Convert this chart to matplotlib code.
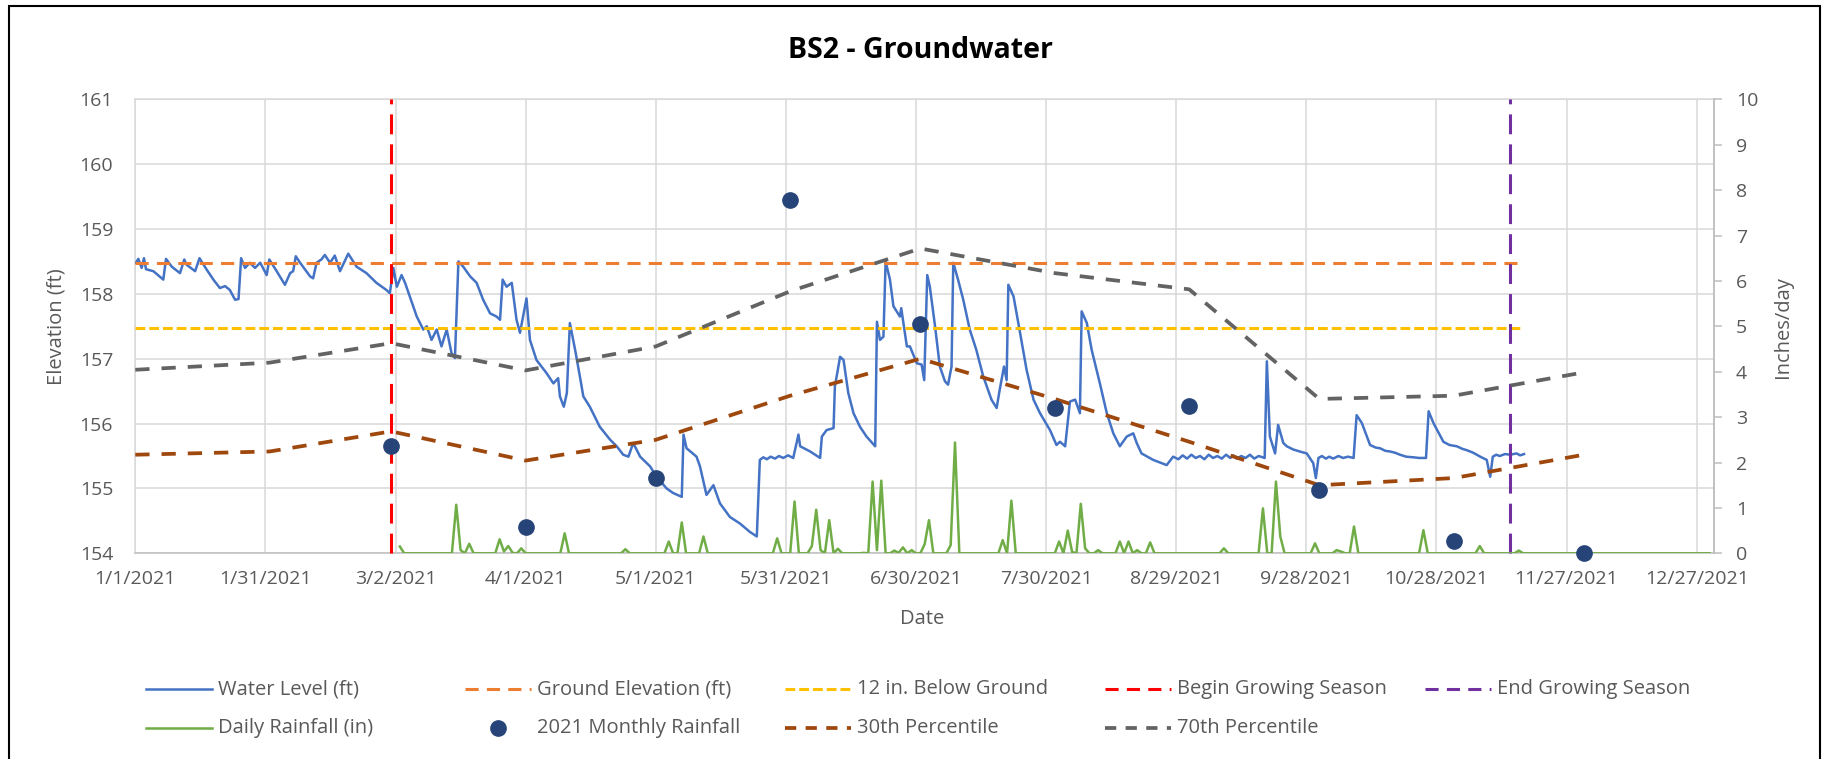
import datetime as dt
import matplotlib
matplotlib.use("Agg")
import matplotlib.pyplot as plt
from matplotlib.lines import Line2D
from matplotlib.patches import Rectangle
from matplotlib.ticker import FuncFormatter, FixedLocator
import matplotlib.dates as mdates

plt.rcParams['font.family'] = ['Open Sans', 'DejaVu Sans']

START = dt.datetime(2021, 1, 1)

# ---------------- data (days since 1/1/2021, elevation ft) ----------------
water_level = [
    (0.16, 158.48), (0.7, 158.54), (1.47, 158.40), (2.0, 158.55), (2.47, 158.38), (4.16, 158.35),
    (6.46, 158.22), (7.08, 158.54), (8.4, 158.42), (10.3, 158.32), (11.3, 158.53), (11.8, 158.45),
    (13.8, 158.35), (14.8, 158.55), (16.5, 158.37), (18.0, 158.22), (19.5, 158.09), (20.7, 158.12),
    (21.8, 158.06), (23.0, 157.91), (23.8, 157.92), (24.4, 158.55), (25.3, 158.40), (26.4, 158.48),
    (27.6, 158.40), (28.8, 158.48), (30.3, 158.29), (30.9, 158.53), (32.6, 158.35), (34.5, 158.14),
    (35.7, 158.32), (36.4, 158.35), (37.0, 158.58), (38.0, 158.48), (40.3, 158.27), (41.0, 158.24),
    (41.8, 158.48), (42.9, 158.53), (43.7, 158.60), (44.9, 158.48), (46.0, 158.59), (47.2, 158.35),
    (49.1, 158.62), (51.0, 158.42), (53.3, 158.32), (55.6, 158.17), (57.9, 158.06), (58.7, 158.01),
    (59.5, 158.40), (60.3, 158.11), (61.4, 158.29), (62.2, 158.17), (63.3, 157.96), (64.9, 157.65),
    (66.4, 157.45), (67.2, 157.50), (68.3, 157.29), (69.5, 157.45), (70.6, 157.19), (71.8, 157.45),
    (72.9, 157.09), (73.7, 157.01), (74.5, 158.50), (75.6, 158.42), (77.2, 158.27), (78.7, 158.17),
    (80.2, 157.91), (81.8, 157.70), (83.3, 157.65), (84.1, 157.60), (84.7, 158.22), (85.6, 158.11),
    (86.8, 158.17), (87.9, 157.60), (88.7, 157.40), (90.2, 157.93), (91.0, 157.29), (92.5, 156.98),
    (94.8, 156.78), (96.4, 156.62), (97.5, 156.70), (97.9, 156.42), (98.8, 156.26), (99.5, 156.47),
    (100.2, 157.55), (101.4, 157.14), (102.5, 156.73), (103.3, 156.42), (104.8, 156.26), (107.1, 155.95),
    (109.5, 155.75), (111.0, 155.65), (112.5, 155.52), (113.7, 155.49), (114.8, 155.70), (116.4, 155.49),
    (118.7, 155.34), (120.2, 155.18), (122.5, 155.00), (124.0, 154.93), (126.0, 154.87), (126.4, 155.83),
    (127.1, 155.62), (129.4, 155.49), (130.2, 155.34), (131.7, 154.90), (133.3, 155.05), (134.8, 154.77),
    (137.1, 154.56), (139.4, 154.46), (141.7, 154.33), (143.3, 154.26), (144.0, 155.44), (144.8, 155.48),
    (145.6, 155.45), (146.5, 155.49), (147.5, 155.46), (148.4, 155.50), (149.4, 155.47), (150.5, 155.51),
    (151.7, 155.47), (152.9, 155.83), (153.3, 155.65), (155.6, 155.57), (157.9, 155.47), (158.3, 155.80),
    (159.4, 155.90), (161.0, 155.93), (161.3, 156.57), (162.5, 157.03), (163.3, 156.98), (164.4, 156.47),
    (165.6, 156.16), (167.1, 155.95), (168.6, 155.80), (170.6, 155.65), (171.0, 157.57), (171.7, 157.29),
    (172.5, 157.34), (173.0, 158.50), (174.0, 158.22), (174.8, 157.81), (176.3, 157.65), (176.6, 157.78),
    (177.9, 157.19), (178.6, 157.19), (180.2, 156.93), (181.3, 156.91), (181.9, 156.67), (182.6, 158.29),
    (183.2, 158.11), (184.4, 157.50), (185.5, 156.88), (186.7, 156.65), (187.4, 156.60), (188.2, 156.88),
    (188.6, 158.48), (189.7, 158.22), (190.9, 157.91), (192.4, 157.45), (193.9, 157.14), (195.5, 156.73),
    (197.4, 156.37), (198.6, 156.24), (199.3, 156.52), (200.3, 156.88), (200.9, 156.67), (201.3, 158.14),
    (202.5, 157.96), (204.0, 157.40), (205.5, 156.83), (207.1, 156.37), (208.6, 156.16), (210.9, 155.90),
    (212.4, 155.67), (213.2, 155.72), (214.4, 155.65), (215.5, 156.34), (216.7, 156.37), (217.8, 156.16),
    (218.2, 157.73), (219.4, 157.55), (220.5, 157.14), (222.4, 156.62), (224.0, 156.16), (225.5, 155.85),
    (227.0, 155.65), (228.6, 155.80), (230.1, 155.85), (230.9, 155.70), (232.0, 155.54), (234.7, 155.44),
    (237.8, 155.36), (239.3, 155.49), (240.5, 155.45), (241.5, 155.51), (242.5, 155.46), (243.5, 155.52),
    (244.5, 155.47), (245.5, 155.50), (246.5, 155.45), (247.5, 155.52), (248.5, 155.47), (249.5, 155.50),
    (250.5, 155.46), (251.5, 155.52), (252.5, 155.47), (253.2, 155.51), (254.0, 155.46), (255.0, 155.50),
    (256.0, 155.47), (257.0, 155.52), (258.0, 155.46), (259.0, 155.50), (260.4, 155.47), (260.9, 156.96),
    (261.6, 155.80), (262.8, 155.54), (263.5, 155.98), (264.7, 155.70), (265.5, 155.65), (267.0, 155.60),
    (268.0, 155.58), (269.0, 155.56), (270.1, 155.54), (271.6, 155.39), (272.2, 155.16), (272.8, 155.47),
    (273.6, 155.50), (274.5, 155.46), (275.3, 155.49), (276.2, 155.46), (277.4, 155.50), (278.5, 155.47),
    (279.6, 155.49), (280.9, 155.47), (281.6, 156.13), (282.8, 156.01), (284.7, 155.67), (286.0, 155.63),
    (287.0, 155.62), (288.2, 155.58), (289.3, 155.57), (290.5, 155.55), (291.6, 155.52), (293.0, 155.49),
    (294.7, 155.48), (296.0, 155.47), (297.6, 155.47), (298.2, 156.19), (299.3, 156.01), (301.6, 155.72),
    (303.0, 155.67), (304.7, 155.65), (306.0, 155.61), (307.0, 155.59), (308.5, 155.55), (310.1, 155.49),
    (311.6, 155.44), (312.4, 155.18), (313.0, 155.49), (313.8, 155.52), (314.6, 155.50), (315.8, 155.53),
    (317.0, 155.52), (318.5, 155.54), (319.3, 155.51), (320.2, 155.53),
]
wl_day = [p[0] for p in water_level]
wl_ft = [p[1] for p in water_level]

ground_elev = 158.47
below_12in = 157.47
ref_line_days = [0, 320]

begin_growing_day = 59     # 3/1/2021
end_growing_day = 317      # 11/14/2021

pct_day = [0, 31, 59, 90, 120, 151, 181, 212, 243, 273, 304, 334]
pct30 = [155.52, 155.57, 155.88, 155.43, 155.75, 156.43, 157.00, 156.38, 155.72, 155.05, 155.16, 155.52]
pct70 = [156.83, 156.94, 157.24, 156.82, 157.19, 158.04, 158.70, 158.32, 158.07, 156.38, 156.43, 156.79]

monthly_day = [59, 90, 120, 151, 181, 212, 243, 273, 304, 334]
monthly_in = [2.37, 0.57, 1.65, 7.78, 5.06, 3.20, 3.25, 1.40, 0.26, 0.00]

rain_first_day, rain_last_day = 61, 363
rain_events = [
    (61, 0.15), (74, 1.07), (75, 0.07), (77, 0.21), (84, 0.31), (85, 0.04), (86, 0.16), (87, 0.01),
    (89, 0.11), (99, 0.44), (113, 0.09), (123, 0.26), (126, 0.68), (131, 0.37), (148, 0.33), (152, 1.14),
    (156, 0.16), (157, 0.96), (158, 0.07), (160, 0.73), (162, 0.10), (168, 0.01), (170, 1.58), (171, 0.07),
    (172, 1.60), (175, 0.06), (176, 0.01), (177, 0.13), (179, 0.07), (182, 0.20), (183, 0.73), (188, 0.18),
    (189, 2.44), (200, 0.29), (202, 1.16), (213, 0.26), (215, 0.50), (216, 0.03), (218, 1.09), (219, 0.11),
    (222, 0.07), (227, 0.26), (229, 0.26), (231, 0.07), (234, 0.24), (251, 0.11), (260, 0.99), (263, 1.58),
    (264, 0.37), (272, 0.22), (277, 0.07), (278, 0.04), (281, 0.59), (297, 0.51), (310, 0.16), (319, 0.06),
]

x_tick_days = [0, 30, 60, 90, 120, 150, 180, 210, 240, 270, 300, 330, 360]
left_ticks = [154, 155, 156, 157, 158, 159, 160, 161]
right_ticks = [0, 1, 2, 3, 4, 5, 6, 7, 8, 9, 10]


def dates(days):
    return [START + dt.timedelta(days=float(v)) for v in days]


rain_days = list(range(rain_first_day, rain_last_day + 1))
rain_lookup = dict(rain_events)
rain_vals = [rain_lookup.get(dd, 0.0) for dd in rain_days]

# ---------------- styles ----------------
C_WL = '#4472C4'
C_GE = '#ED7D31'
C_12 = '#FFC000'
C_BEGIN = '#FF0000'
C_END = '#7030A0'
C_RAIN = '#70AD47'
C_MON = '#264478'
C_P30 = '#9E480E'
C_P70 = '#636363'
TXT = '#595959'

fig = plt.figure(figsize=(18.31, 7.59), dpi=100)
ax = fig.add_axes([0.07389, 0.27101, 0.86221, 0.59816])

ax.plot(dates(wl_day), wl_ft, color=C_WL, lw=1.8, zorder=3)
ax.plot(dates(ref_line_days), [ground_elev, ground_elev], color=C_GE, lw=2.2, dashes=(4.3, 2.7), zorder=4)
ax.plot(dates(ref_line_days), [below_12in, below_12in], color=C_12, lw=2.2, dashes=(3.2, 1.3), zorder=4)
ax.plot(dates([begin_growing_day, begin_growing_day]), [154, 161], color=C_BEGIN, lw=2.2,
        dashes=(6.5, 3.3), zorder=5, clip_on=False)
ax.plot(dates([end_growing_day, end_growing_day]), [154, 161], color=C_END, lw=2.2,
        dashes=(6.5, 3.3), zorder=5, clip_on=False)
ax.plot(dates(pct_day), pct30, color=C_P30, lw=2.7, dashes=(3.8, 3.2), zorder=6)
ax.plot(dates(pct_day), pct70, color=C_P70, lw=2.7, dashes=(3.8, 3.2), zorder=6)

ax.set_xlim(START, START + dt.timedelta(days=364))
ax.set_ylim(154, 161)
ax.xaxis.set_major_locator(FixedLocator(mdates.date2num(dates(x_tick_days))))


def fmt_date(x, pos):
    t = mdates.num2date(x)
    return f"{t.month}/{t.day}/{t.year}"


ax.xaxis.set_major_formatter(FuncFormatter(fmt_date))
ax.set_yticks(left_ticks)
ax.grid(True, color='#D9D9D9', lw=1.1, zorder=0)
ax.set_axisbelow(True)
ax.tick_params(axis='x', length=0, pad=12, labelsize=14, labelcolor=TXT)
ax.tick_params(axis='y', length=0, pad=16, labelsize=14, labelcolor=TXT)
for s in ['top', 'left']:
    ax.spines[s].set_color('#D9D9D9')
for s in ['bottom', 'right']:
    ax.spines[s].set_color('#BFBFBF')
for s in ax.spines.values():
    s.set_linewidth(1.1)

ax2 = ax.twinx()
ax2.plot(dates(rain_days), rain_vals, color=C_RAIN, lw=1.8, zorder=3)
ax2.plot(dates(monthly_day), monthly_in, linestyle='none', marker='o', markersize=11,
         color=C_MON, zorder=4, clip_on=False)
ax2.set_ylim(0, 10)
ax2.set_yticks(right_ticks)
ax2.tick_params(axis='y', direction='out', length=5.8, width=1.1, color='#BFBFBF', pad=10,
                labelsize=14, labelcolor=TXT)
for s in ax2.spines.values():
    s.set_visible(False)
ax2.spines['right'].set_visible(True)
ax2.spines['right'].set_color('#BFBFBF')
ax2.spines['right'].set_linewidth(1.1)

# ---------------- text ----------------
W, H = 1831.0, 759.0
fig.text(921 / W, 1 - 51 / H, 'BS2 - Groundwater', ha='center', va='center', fontsize=20.5,
         fontweight='bold', color='black')
fig.text(57 / W, 1 - 327 / H, 'Elevation (ft)', rotation=90, ha='center', va='center',
         fontsize=14.5, color=TXT)
fig.text(1783 / W, 1 - 327 / H, 'Inches/day', rotation=90, ha='center', va='center',
         fontsize=14.5, color=TXT)
fig.text(922 / W, 1 - 619 / H, 'Date', ha='center', va='center', fontsize=14.5, color=TXT)

# ---------------- legend (two rows, five columns) ----------------
col_x = [146, 465, 785, 1105, 1425]
row_y = [689, 728]
entries = [
    (0, 0, 'Water Level (ft)', dict(color=C_WL, lw=1.8)),
    (1, 0, 'Ground Elevation (ft)', dict(color=C_GE, lw=2.2, dashes=(4.3, 2.7))),
    (2, 0, '12 in. Below Ground', dict(color=C_12, lw=2.2, dashes=(3.2, 1.3))),
    (3, 0, 'Begin Growing Season', dict(color=C_BEGIN, lw=2.2, dashes=(4.3, 2.7))),
    (4, 0, 'End Growing Season', dict(color=C_END, lw=2.2, dashes=(4.3, 2.7))),
    (0, 1, 'Daily Rainfall (in)', dict(color=C_RAIN, lw=1.8)),
    (1, 1, '2021 Monthly Rainfall', 'marker'),
    (2, 1, '30th Percentile', dict(color=C_P30, lw=2.7, dashes=(3.0, 2.5))),
    (3, 1, '70th Percentile', dict(color=C_P70, lw=2.7, dashes=(3.0, 2.5))),
]
for c, r, label, style in entries:
    x0 = col_x[c]
    y = 1 - row_y[r] / H
    if style == 'marker':
        fig.add_artist(Line2D([(x0 + 33) / W], [y], transform=fig.transFigure, linestyle='none',
                              marker='o', markersize=11, color=C_MON))
    else:
        fig.add_artist(Line2D([x0 / W, (x0 + 66) / W], [y, y], transform=fig.transFigure, **style))
    fig.text((x0 + 72) / W, y, label, ha='left', va='center', fontsize=14.5, color=TXT)

fig.add_artist(Rectangle((9 / W, -0.05), 1811 / W, 1.05 - 6 / H, transform=fig.transFigure,
                         fill=False, edgecolor='black', lw=1.5))

fig.savefig('out.png', dpi=100)
